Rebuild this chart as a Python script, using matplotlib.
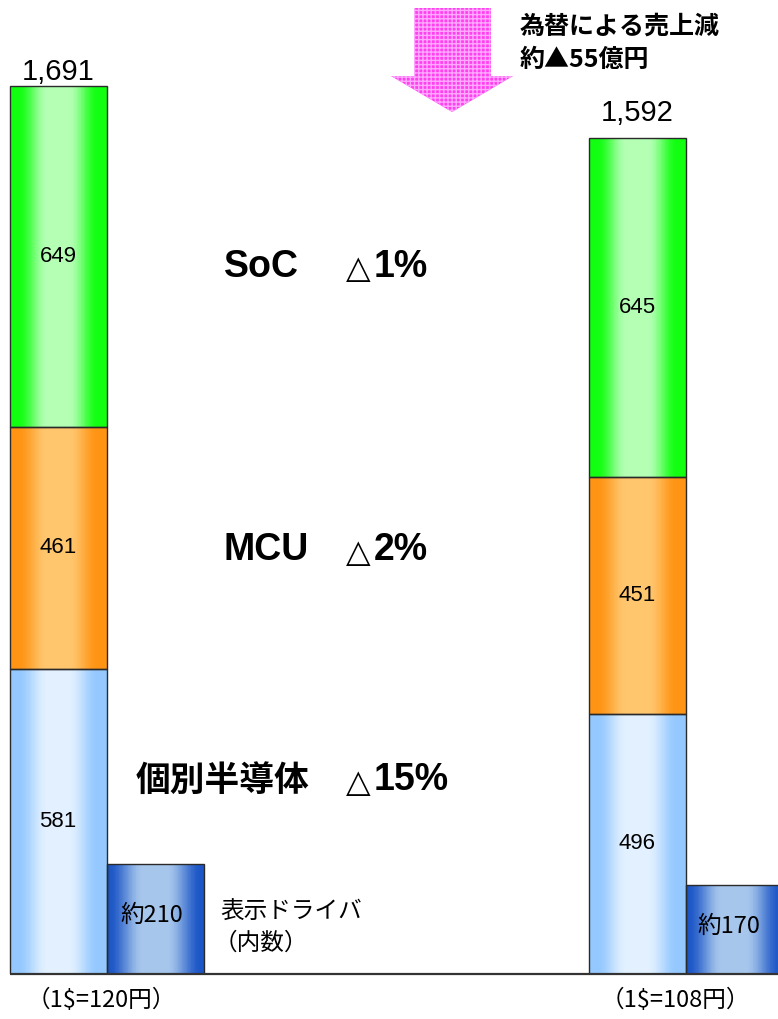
import numpy as np
import matplotlib
matplotlib.use("Agg")
import matplotlib.pyplot as plt
from matplotlib.colors import to_rgb
from matplotlib.patches import Polygon, Rectangle
from matplotlib.collections import PatchCollection

# ---------------- data ----------------
periods = ["（1$=120円）", "（1$=108円）"]
discrete = [581, 496]      # 個別半導体
mcu = [461, 451]
soc = [649, 645]
totals = [1691, 1592]
display_driver = [210, 170]
driver_labels = ["約210", "約170"]
change_soc = "△1%"
change_mcu = "△2%"
change_disc = "△15%"

# ---------------- layout ----------------
W, H = 778, 1019
fig = plt.figure(figsize=(W / 100, H / 100), dpi=100)
base_px = 974
ax = fig.add_axes([0, (H - base_px) / H, 1, base_px / H])
px_per_unit = 0.525
ax.set_ylim(0, base_px / px_per_unit)
xmin, xmax = -58 / 97, (778 - 58) / 97
ax.set_xlim(xmin, xmax)
ax.axis("off")

main_x = np.array([0, 5.97])
small_x = main_x + 1
BW = 1.0

CJK = "Noto Sans CJK JP"
SANS = ["Liberation Sans", CJK]


def smooth(v):
    v = np.clip(v, 0, 1)
    return v * v * (3 - 2 * v)


def gradient_fill(xc, bottom, height, c_edge, c_center, lo=0.09, span=0.30, n=120, z=2.9):
    x0 = xc - BW / 2
    edges = np.linspace(0, 1, n + 1)
    mids = (edges[:-1] + edges[1:]) / 2
    d = np.minimum(mids, 1 - mids)
    t = smooth((d - lo) / span)
    ce, cc = np.array(to_rgb(c_edge)), np.array(to_rgb(c_center))
    cols = ce[None, :] + (cc - ce)[None, :] * t[:, None]
    w = BW / n
    rects = [Rectangle((x0 + e * BW, bottom), w * 1.05, height) for e in edges[:-1]]
    pc = PatchCollection(rects, facecolors=cols, edgecolors="none", linewidths=0,
                         zorder=z, antialiased=False)
    ax.add_collection(pc)


edge_kw = dict(width=BW, facecolor="none", edgecolor="#2a2a2a", linewidth=1.0, zorder=3)

mcu_bottom = np.array(discrete)
soc_bottom = np.add(discrete, mcu)
ax.bar(main_x, discrete, **edge_kw)
ax.bar(main_x, mcu, bottom=mcu_bottom, **edge_kw)
ax.bar(main_x, soc, bottom=soc_bottom, **edge_kw)
ax.bar(small_x, display_driver, **edge_kw)

for i in range(2):
    gradient_fill(main_x[i], 0, discrete[i], "#94c8ff", "#e2f0ff")
    gradient_fill(main_x[i], mcu_bottom[i], mcu[i], "#ff9414", "#ffc66e")
    gradient_fill(main_x[i], soc_bottom[i], soc[i], "#12ff12", "#b4ffb4")
    gradient_fill(small_x[i], 0, display_driver[i], "#1c56c6", "#a6c6ec", lo=0.02, span=0.36)

ax.set_xlim(xmin, xmax)
ax.set_ylim(0, base_px / px_per_unit)

# baseline
ax.hlines(0, main_x[0] - 0.5, xmax, color="#333333", lw=1.6, zorder=4, clip_on=False)

# segment labels
for i in range(2):
    ax.text(main_x[i], discrete[i] / 2, f"{discrete[i]}", ha="center", va="center",
            fontsize=16, family=SANS, zorder=5)
    ax.text(main_x[i], mcu_bottom[i] + mcu[i] / 2, f"{mcu[i]}", ha="center", va="center",
            fontsize=16, family=SANS, zorder=5)
    ax.text(main_x[i], soc_bottom[i] + soc[i] / 2, f"{soc[i]}", ha="center",
            va="center", fontsize=16, family=SANS, zorder=5)
    ax.text(small_x[i] - (0.035 if i == 0 else 0.05), display_driver[i] / 2 + 6, driver_labels[i],
            ha="center", va="center", fontsize=17, family=[CJK], zorder=5)

# totals
tot_offsets = [6, 17]
for i in range(2):
    ax.annotate(f"{totals[i]:,}", (main_x[i], totals[i]), xytext=(0, tot_offsets[i] * 0.72),
                textcoords="offset points", ha="center", va="baseline",
                fontsize=21, family=SANS)

# period labels
for i, lbl in enumerate(periods):
    xc = [0.45, 6.36][i]
    ax.text(xc, -26 / px_per_unit, lbl, ha="center", va="center", fontsize=17,
            family=[CJK], clip_on=False)


def y_of(py):
    return (base_px - py) / px_per_unit


def x_of(px):
    return (px - 58) / 97


# big category labels
ax.text(x_of(224), y_of(267), "SoC", ha="left", va="center", fontsize=27,
        fontweight="bold", family=SANS)
ax.text(x_of(224), y_of(550), "MCU", ha="left", va="center", fontsize=27,
        fontweight="bold", family=SANS)
ax.text(x_of(136), y_of(780), "個別半導体", ha="left", va="center", fontsize=25,
        fontweight="bold", family=[CJK])
for txt, py in [(change_soc, 267), (change_mcu, 550), (change_disc, 780)]:
    ax.text(x_of(346), y_of(py + 3), "△", ha="left", va="center", fontsize=23,
            fontweight="bold", family=["DejaVu Sans"])
    ax.text(x_of(374), y_of(py), txt[1:], ha="left", va="center", fontsize=27,
            fontweight="bold", family=SANS)

# display driver note
ax.text(x_of(220), y_of(912), "表示ドライバ", ha="left", va="center", fontsize=17,
        family=[CJK])
ax.text(x_of(214), y_of(943), "（内数）", ha="left", va="center", fontsize=17,
        family=[CJK])

# FX arrow annotation
def fpt(px, py):
    return (px / W, 1 - py / H)

arrow_pts = [fpt(414, 8), fpt(491, 8), fpt(491, 76), fpt(513, 76), fpt(452, 112),
             fpt(391, 76), fpt(414, 76)]
arrow = Polygon(arrow_pts, closed=True, transform=fig.transFigure, facecolor="#ff40ee",
                edgecolor="#ffa8ff", hatch="++++", linewidth=0, zorder=6)
fig.patches.append(arrow)
fig.text(520 / W, 1 - 27 / H, "為替による売上減", ha="left", va="center", fontsize=18,
         fontweight="bold", family=[CJK])
fig.text(520 / W, 1 - 60 / H, "約▲55億円", ha="left", va="center", fontsize=18,
         fontweight="bold", family=[CJK, "DejaVu Sans"])

fig.savefig("out.png", dpi=100, facecolor="white")
